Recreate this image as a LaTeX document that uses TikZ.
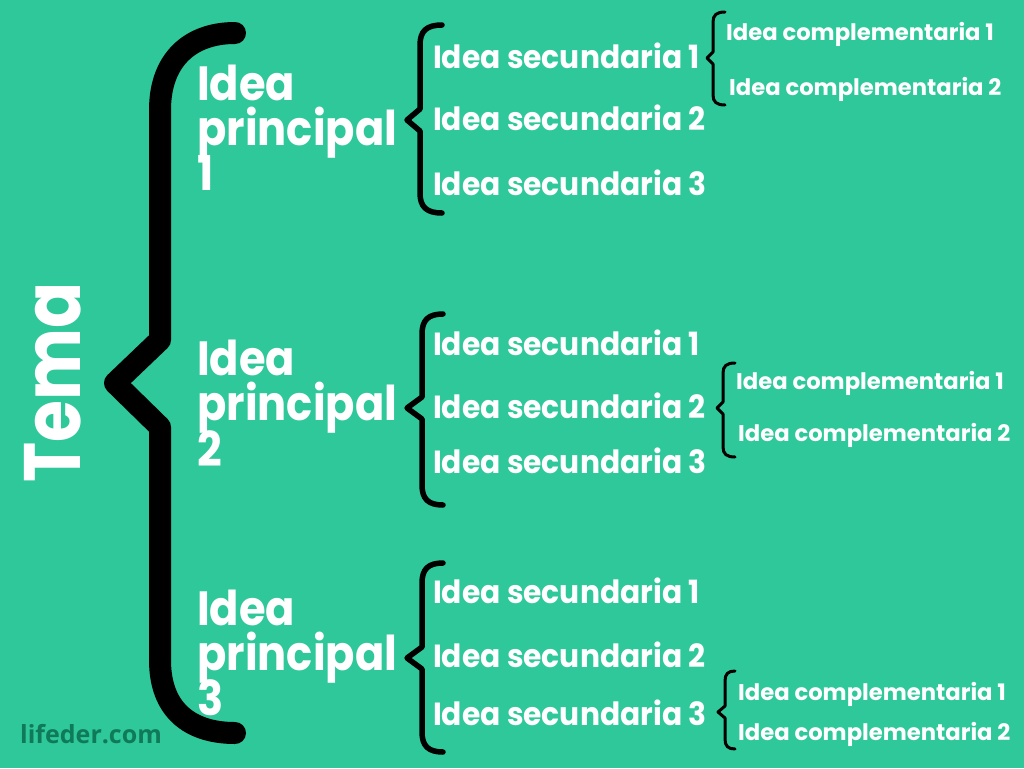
\documentclass[tikz,border=0pt]{standalone}
\usepackage{fontspec}
\setmainfont{Poppins}
\newfontfamily\popb{Poppins}[UprightFont=* Bold]
\newfontfamily\popbn{Poppins}[UprightFont=* Bold, FakeStretch=0.9]
\newfontfamily\popbt{Poppins}[UprightFont=* Bold, FakeStretch=0.85]
\newfontfamily\popbs{Poppins}[UprightFont=* Bold, FakeStretch=0.93]
\newfontfamily\osb{Open Sans}[UprightFont=* Bold]
\definecolor{bgc}{HTML}{2EC89B}
\definecolor{logoc}{HTML}{107A58}
\newcommand\mybrace[9]{%
  % #1 xv, #2 ytop, #3 ybot, #4 cx, #5 cy, #6 hook, #7 radius, #8 half-cusp, #9 width
  \draw[line width=#9, line cap=round, line join=round]
    ({#1+#6},#2) .. controls ({#1+0.3*#6},#2) and (#1,{#2+0.3*#7}) .. (#1,{#2+#7})
    -- (#1,{#5-#8}) -- (#4,#5) -- (#1,{#5+#8})
    -- (#1,{#3-#7}) .. controls (#1,{#3-0.3*#7}) and ({#1+0.3*#6},#3) .. ({#1+#6},#3);}
\begin{document}
\begin{tikzpicture}[x=1pt,y=-1pt,
  princ/.style={anchor=base west, inner sep=0pt, text=white, font=\popbn\fontsize{48}{48}\selectfont},
  secu/.style={anchor=base west, inner sep=0pt, text=white, font=\popbs\fontsize{32}{32}\selectfont},
  comp/.style={anchor=base west, inner sep=0pt, text=white, font=\popb\fontsize{22.7}{22.7}\selectfont}]
\useasboundingbox (0,0) rectangle (1024,768);
\fill[bgc] (0,0) rectangle (1024,768);
% big brace
\draw[line width=22pt, line cap=round, line join=round]
  (235,33) .. controls (190,33) and (160,60) .. (160,110)
  -- (160,340) -- (115,383) -- (160,427)
  -- (160,660) .. controls (160,710) and (190,733) .. (235,733);
\node[anchor=base west, inner sep=0pt, rotate=90, text=white, font=\popbt\fontsize{80}{80}\selectfont] (tema) at (80,483) {Tema};
% principal ideas
\node[princ] (p1a) at (197,100) {Idea};
\node[princ] (p1b) at (197,145) {principal};
\node[princ] (p1c) at (197,190) {1};
\node[princ] (p2a) at (197,375) {Idea};
\node[princ] (p2b) at (197,420) {principal};
\node[princ] (p2c) at (197,466) {2};
\node[princ] (p3a) at (197,625) {Idea};
\node[princ] (p3b) at (197,670) {principal};
\node[princ] (p3c) at (197,715) {3};
% secondary braces
\mybrace{420}{25}{213}{407}{120}{22}{20}{11}{5.5pt}
\mybrace{422}{314}{505}{407}{408}{21}{20}{11}{5.5pt}
\mybrace{422}{563}{752}{407}{658}{21}{20}{11}{5.5pt}
\node[secu] (s11) at (433,68) {Idea secundaria 1};
\node[secu] (s12) at (433,130) {Idea secundaria 2};
\node[secu] (s13) at (433,195) {Idea secundaria 3};
\node[secu] (s21) at (433,355) {Idea secundaria 1};
\node[secu] (s22) at (433,418) {Idea secundaria 2};
\node[secu] (s23) at (433,473) {Idea secundaria 3};
\node[secu] (s31) at (433,603) {Idea secundaria 1};
\node[secu] (s32) at (433,667) {Idea secundaria 2};
\node[secu] (s33) at (433,725) {Idea secundaria 3};
% complementary braces
\mybrace{713}{12}{105}{707}{58}{12}{10}{6}{3pt}
\mybrace{723}{363}{457}{717}{408}{12}{10}{6}{3pt}
\mybrace{725}{671}{749}{718}{712}{10}{10}{6}{3pt}
\node[comp] (c11) at (726,41) {Idea complementaria 1};
\node[comp] (c12) at (729,95) {Idea complementaria 2};
\node[comp] (c21) at (736,389) {Idea complementaria 1};
\node[comp] (c22) at (738,441) {Idea complementaria 2};
\node[comp] (c31) at (738,700) {Idea complementaria 1};
\node[comp] (c32) at (738,740) {Idea complementaria 2};
% logo
\node[anchor=base west, inner sep=0pt, text=logoc, font=\osb\fontsize{25}{25}\selectfont] (logo) at (20,743) {lifeder.com};
\end{tikzpicture}
\end{document}
